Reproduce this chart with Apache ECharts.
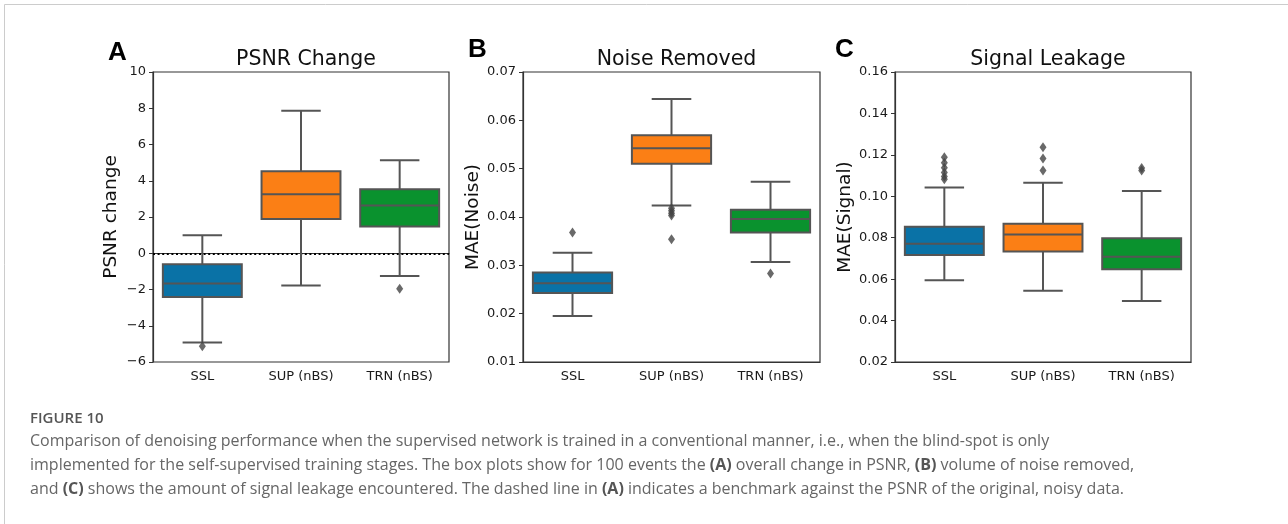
<!DOCTYPE html>
<html>
<head>
<meta charset="utf-8">
<script src="https://cdn.jsdelivr.net/npm/echarts@6/dist/echarts.min.js"></script>
<style>
html,body{margin:0;padding:0;background:#fff;}
#chart{width:1288px;height:524px;}
</style>
</head>
<body>
<div id="chart"></div>
<script>
// ---- data ----
const categories = ['SSL', 'SUP (nBS)', 'TRN (nBS)'];
// [min whisker, Q1, median, Q3, max whisker]
const psnrBoxes = [
  [-4.93, -2.41, -1.67, -0.60, 1.00],
  [-1.78, 1.89, 3.25, 4.53, 7.86],
  [-1.26, 1.48, 2.63, 3.53, 5.13]
];
const psnrOutliers = [[0, -5.13], [2, -1.96]];
const noiseBoxes = [
  [0.0195, 0.0243, 0.0263, 0.0285, 0.0326],
  [0.0424, 0.0510, 0.0542, 0.0569, 0.0644],
  [0.0307, 0.0368, 0.0396, 0.0415, 0.0473]
];
const noiseOutliers = [[0, 0.0368], [1, 0.0418], [1, 0.0413], [1, 0.0408], [1, 0.0403], [1, 0.0354], [2, 0.0283]];
const signalBoxes = [
  [0.0595, 0.0716, 0.0771, 0.0853, 0.1042],
  [0.0544, 0.0734, 0.0815, 0.0868, 0.1065],
  [0.0495, 0.0648, 0.0708, 0.0797, 0.1026]
];
const signalOutliers = [[0, 0.1189], [0, 0.1162], [0, 0.1138], [0, 0.1115], [0, 0.1095], [0, 0.1082],
  [1, 0.1237], [1, 0.1182], [1, 0.1124], [2, 0.1136], [2, 0.1124]];
const panelTitles = ['PSNR Change', 'Noise Removed', 'Signal Leakage'];
const panelLetters = ['A', 'B', 'C'];
const yNames = ['PSNR change', 'MAE(Noise)', 'MAE(Signal)'];
const yRanges = [[-6, 10, 2], [0.01, 0.07, 0.01], [0.02, 0.16, 0.02]];
const yDecimals = [0, 2, 2];
const benchmark = 0;
const captionHead = 'FIGURE 10';
const captionLines = [
  'Comparison of denoising performance when the supervised network is trained in a conventional manner, i.e., when the blind-spot is only',
  'implemented for the self-supervised training stages. The box plots show for 100 events the {b|(A)} overall change in PSNR, {b|(B)} volume of noise removed,',
  'and {b|(C)} shows the amount of signal leakage encountered. The dashed line in {b|(A)} indicates a benchmark against the PSNR of the original, noisy data.'
];

// ---- styling ----
const boxColors = ['#0a72a6', '#fb7f15', '#0a922e'];
const edge = '#555555';
const FONT = 'DejaVu Sans';
const grids = [
  {left: 153, top: 72, width: 296, height: 290},
  {left: 523, top: 72, width: 297, height: 290},
  {left: 895, top: 72, width: 296, height: 290}
];
const letterPos = [[108, 53], [468, 49.5], [835, 49.5]];

function renderBox(params, api) {
  const ci = api.value(0);
  const v = [1, 2, 3, 4, 5].map(i => api.value(i));
  const band = api.size([1, 0])[0];
  const w = band * 0.8, cap = w / 2;
  const x = api.coord([ci, v[2]])[0];
  const y = v.map(val => api.coord([ci, val])[1]);
  const ls = {stroke: edge, lineWidth: 2, fill: null};
  return {
    type: 'group',
    children: [
      {type: 'line', shape: {x1: x, y1: y[0], x2: x, y2: y[1]}, style: ls},
      {type: 'line', shape: {x1: x, y1: y[3], x2: x, y2: y[4]}, style: ls},
      {type: 'line', shape: {x1: x - cap / 2, y1: y[0], x2: x + cap / 2, y2: y[0]}, style: ls},
      {type: 'line', shape: {x1: x - cap / 2, y1: y[4], x2: x + cap / 2, y2: y[4]}, style: ls},
      {type: 'rect', shape: {x: x - w / 2, y: y[3], width: w, height: y[1] - y[3]},
        style: {fill: boxColors[ci], stroke: edge, lineWidth: 2}},
      {type: 'line', shape: {x1: x - w / 2, y1: y[2], x2: x + w / 2, y2: y[2]}, style: ls}
    ]
  };
}

const boxSets = [psnrBoxes, noiseBoxes, signalBoxes];
const outSets = [psnrOutliers, noiseOutliers, signalOutliers];

const option = {
  animation: false,
  backgroundColor: '#ffffff',
  textStyle: {fontFamily: FONT},
  grid: grids.map(g => Object.assign({show: true, borderColor: '#333', borderWidth: 1.2, backgroundColor: 'transparent'}, g)),
  title: panelTitles.map((t, i) => ({
    text: t,
    left: grids[i].left + grids[i].width / 2,
    top: 44,
    textAlign: 'center',
    textStyle: {fontFamily: FONT, fontSize: 20.5, fontWeight: 'normal', color: '#111'}
  })),
  xAxis: grids.map((g, i) => ({
    type: 'category',
    gridIndex: i,
    data: categories,
    axisLine: {lineStyle: {color: '#333', width: 1.2}},
    axisTick: {alignWithLabel: true, length: 4, lineStyle: {color: '#333'}},
    axisLabel: {fontFamily: FONT, fontSize: 13, color: '#1a1a1a', margin: 8}
  })),
  yAxis: grids.map((g, i) => ({
    type: 'value',
    gridIndex: i,
    min: yRanges[i][0], max: yRanges[i][1], interval: yRanges[i][2],
    name: yNames[i],
    nameLocation: 'middle',
    nameGap: i === 0 ? 32 : 40,
    nameTextStyle: {fontFamily: FONT, fontSize: 18.5, color: '#111'},
    splitLine: {show: false},
    axisLine: {show: true, lineStyle: {color: '#333', width: 1.2}},
    axisTick: {show: true, length: 4, lineStyle: {color: '#333'}},
    axisLabel: {
      fontFamily: FONT, fontSize: 13, color: '#1a1a1a', margin: 7,
      formatter: val => Number(val).toFixed(yDecimals[i]).replace('-', '\u2212')
    }
  })),
  series: [].concat(
    boxSets.map((b, i) => ({
      type: 'custom',
      xAxisIndex: i, yAxisIndex: i,
      renderItem: renderBox,
      encode: {x: 0, y: [1, 2, 3, 4, 5]},
      data: b.map((vals, ci) => [ci].concat(vals)),
      z: 2,
      markLine: i === 0 ? {
        silent: true, symbol: 'none',
        label: {show: false},
        lineStyle: {color: '#000', width: 2.2, type: [2, 2.6]},
        data: [{yAxis: benchmark}],
        z: 1
      } : undefined
    })),
    outSets.map((o, i) => ({
      type: 'scatter',
      xAxisIndex: i, yAxisIndex: i,
      symbol: 'diamond',
      symbolSize: [7, 10],
      itemStyle: {color: '#444'},
      data: o,
      z: 3
    }))
  ),
  graphic: [
    {type: 'line', shape: {x1: 4.5, y1: 4.5, x2: 1288, y2: 4.5}, style: {stroke: '#cccccc', lineWidth: 1}},
    {type: 'line', shape: {x1: 4.5, y1: 4.5, x2: 4.5, y2: 524}, style: {stroke: '#cccccc', lineWidth: 1}}
  ].concat(panelLetters.map((l, i) => ({
    type: 'text',
    style: {
      text: l, x: letterPos[i][0], y: letterPos[i][1],
      verticalAlign: 'middle', align: 'left',
      font: 'bold 26px "Liberation Sans"', fill: '#000'
    }
  }))).concat([
    {type: 'text', left: 30, top: 411, style: {text: captionHead, font: '600 15px "Open Sans"', fill: '#555'}},
  ]).concat(captionLines.map((t, k) => ({
    type: 'text', left: 30, top: 433 + k * 24,
    style: {
      text: t, fontFamily: 'Open Sans', fontSize: 16, fill: '#666',
      rich: {b: {fontFamily: 'Open Sans', fontSize: 16, fontWeight: 'bold', fill: '#555'}}
    }
  })))
};

const chart = echarts.init(document.getElementById('chart'), null, {renderer: 'canvas'});
chart.setOption(option);
</script>
</body>
</html>
